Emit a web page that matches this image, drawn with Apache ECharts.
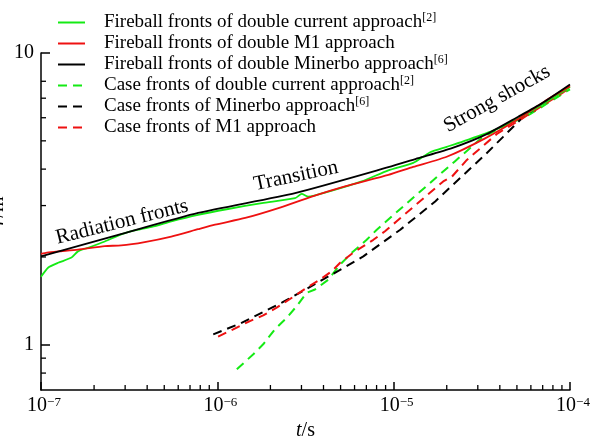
<!DOCTYPE html>
<html>
<head>
<meta charset="utf-8">
<script src="https://cdn.jsdelivr.net/npm/echarts@6/dist/echarts.min.js"></script>
<style>
  html, body { margin: 0; padding: 0; background: #fff; }
  #chart { width: 596px; height: 439px; }
</style>
</head>
<body>
<div id="chart"></div>
<script>
// t in s, r in m
var fireballCurrent = [
  [1e-7, 1.71], [1.10e-7, 1.84], [1.25e-7, 1.91], [1.49e-7, 1.99], [1.62e-7, 2.09],
  [1.85e-7, 2.15], [2.30e-7, 2.26], [2.85e-7, 2.39], [3.55e-7, 2.48], [4.42e-7, 2.55],
  [5.48e-7, 2.65], [7.78e-7, 2.79], [1.15e-6, 2.92], [1.79e-6, 3.06], [2.76e-6, 3.18],
  [3.01e-6, 3.29], [3.28e-6, 3.22], [4.27e-6, 3.35], [6.59e-6, 3.63], [9.33e-6, 3.96],
  [1.29e-5, 4.20], [1.61e-5, 4.57], [2.00e-5, 4.77], [2.48e-5, 4.98], [3.76e-5, 5.45],
  [5.94e-5, 6.28], [9.72e-5, 7.56], [1e-4, 7.65]
];
var fireballM1 = [
  [1e-7, 2.05], [1.08e-7, 2.07], [1.25e-7, 2.09], [1.62e-7, 2.12], [2.30e-7, 2.18],
  [2.85e-7, 2.19], [3.87e-7, 2.25], [5.48e-7, 2.35], [7.78e-7, 2.49], [9.70e-7, 2.58],
  [1.44e-6, 2.72], [2.22e-6, 2.94], [3.43e-6, 3.22], [5.30e-6, 3.49], [9.33e-6, 3.82],
  [1.29e-5, 4.07], [2.00e-5, 4.41], [3.30e-5, 5.10], [5.09e-5, 5.94], [7.23e-5, 6.85],
  [1e-4, 7.7]
];
var fireballMinerbo = [
  [1e-7, 2.01], [2.74e-7, 2.38], [7.78e-7, 2.83], [2.76e-6, 3.31], [9.33e-6, 4.06],
  [1.38e-5, 4.36], [2.14e-5, 4.72], [3.30e-5, 5.24], [5.09e-5, 6.05], [6.92e-5, 6.72],
  [1e-4, 7.8]
];
var caseCurrent = [
  [1.29e-6, 0.825], [1.60e-6, 0.928], [1.82e-6, 1.004], [2.12e-6, 1.13], [2.48e-6, 1.239],
  [2.82e-6, 1.357], [3.21e-6, 1.508], [3.58e-6, 1.547], [4.27e-6, 1.674], [4.97e-6, 1.884],
  [5.78e-6, 2.066], [7.03e-6, 2.29], [8.02e-6, 2.48], [9.93e-6, 2.78], [1.47e-5, 3.42],
  [2.23e-5, 4.26], [3.16e-5, 5.12], [4.02e-5, 5.53], [5.94e-5, 6.17], [9.6e-5, 7.40],
  [1e-4, 7.5]
];
var caseMinerbo = [
  [9.48e-7, 1.086], [1.35e-6, 1.184], [2.32e-6, 1.394], [2.94e-6, 1.508], [5.19e-6, 1.835],
  [6.73e-6, 2.01], [1.09e-5, 2.48], [1.72e-5, 3.10], [2.43e-5, 3.77], [3.30e-5, 4.48],
  [4.19e-5, 5.17], [5.44e-5, 6.05], [9.5e-5, 7.55]
];
var caseM1 = [
  [1.01e-6, 1.067], [1.23e-6, 1.13], [1.53e-6, 1.206], [1.82e-6, 1.261], [2.17e-6, 1.34],
  [2.70e-6, 1.461], [3.21e-6, 1.568], [3.83e-6, 1.674], [4.46e-6, 1.787], [4.97e-6, 1.91],
  [5.90e-6, 2.07], [7.67e-6, 2.29], [8.93e-6, 2.45], [1.04e-5, 2.65], [1.91e-5, 3.63],
  [2.14e-5, 3.77], [2.60e-5, 4.30], [3.85e-5, 5.28], [5.21e-5, 5.90], [8.97e-5, 7.27],
  [1e-4, 7.6]
];

var seriesNames = [
  'Fireball fronts of double current approach[2]',
  'Fireball fronts of double M1 approach',
  'Fireball fronts of double Minerbo approach[6]',
  'Case fronts of double current approach[2]',
  'Case fronts of Minerbo approach[6]',
  'Case fronts of M1 approach'
];

// minor tick values of the log axes
var xMinorTicks = [2e-7, 3e-7, 4e-7, 5e-7, 6e-7, 7e-7, 8e-7, 9e-7,
  2e-6, 3e-6, 4e-6, 5e-6, 6e-6, 7e-6, 8e-6, 9e-6,
  2e-5, 3e-5, 4e-5, 5e-5, 6e-5, 7e-5, 8e-5, 9e-5];
var yMinorTicks = [0.8, 0.9, 2, 3, 4, 5, 6, 7, 8];

var serif = '"Liberation Serif", "DejaVu Serif", serif';
var GREEN = '#14ea14';
var RED = '#ee1111';
var BLACK = '#000000';

function lineSeries(name, data, color, dashed) {
  return {
    name: name,
    type: 'line',
    data: data,
    symbol: 'none',
    symbolSize: 0,
    showSymbol: false,
    smooth: dashed ? false : 0.2,
    itemStyle: { color: color },
    lineStyle: { color: color, width: dashed ? 2 : 1.8, type: dashed ? [9, 6] : 'solid' },
    z: dashed ? 2 : 3
  };
}

function minorTickSeries(data, horizontal) {
  return {
    type: 'custom',
    silent: true,
    clip: false,
    z: 5,
    data: data,
    renderItem: function (params, api) {
      var p = api.coord([api.value(0), api.value(1)]);
      return {
        type: 'line',
        shape: horizontal
          ? { x1: p[0], y1: p[1], x2: p[0] + 5, y2: p[1] }
          : { x1: p[0], y1: p[1], x2: p[0], y2: p[1] - 5 },
        style: { stroke: '#000', lineWidth: 1.3 }
      };
    }
  };
}

function powLabel(value) {
  var e = Math.round(Math.log10(value));
  if (e === 0) return '{b|1}';
  if (e === 1) return '{b|10}';
  return '{b|10}{e|' + (e < 0 ? '\u2212' : '') + Math.abs(e) + '}';
}

var axisRich = {
  b: { fontFamily: serif, fontSize: 20, color: '#000' },
  e: { fontFamily: serif, fontSize: 13, color: '#000', verticalAlign: 'top', lineHeight: 14 }
};

var option = {
  animation: false,
  backgroundColor: '#fff',
  grid: { left: 41, right: 26, top: 53, bottom: 49, containLabel: false, outerBoundsMode: 'none' },
  legend: {
    orient: 'vertical',
    left: 57,
    top: 12,
    padding: 0,
    itemWidth: 27,
    itemHeight: 10,
    itemGap: 0,
    itemStyle: { opacity: 0, borderWidth: 0 },
    data: seriesNames,
    formatter: function (name) {
      var m = name.match(/^(.*?)(\[\d\])?$/);
      return '{n|' + m[1] + '}' + (m[2] ? '{s|' + m[2] + '}' : '');
    },
    textStyle: {
      color: '#000',
      fontFamily: serif,
      fontSize: 19,
      lineHeight: 21,
      padding: [0, 0, 0, 14],
      rich: {
        n: { fontFamily: serif, fontSize: 19, color: '#000', lineHeight: 21 },
        s: { fontFamily: serif, fontSize: 12, color: '#000', verticalAlign: 'top', lineHeight: 14 }
      }
    }
  },
  xAxis: {
    type: 'log',
    logBase: 10,
    min: 1e-7,
    max: 1e-4,
    name: '{i|t}/s',
    nameLocation: 'middle',
    nameGap: 20,
    nameTextStyle: {
      fontFamily: serif, fontSize: 20, color: '#000',
      rich: { i: { fontFamily: serif, fontSize: 20, fontStyle: 'italic', color: '#000' } }
    },
    axisLine: { lineStyle: { color: '#000', width: 1.5 } },
    axisTick: { inside: true, length: 8, lineStyle: { color: '#000', width: 1.5 } },
    splitLine: { show: false },
    axisLabel: { margin: 6, padding: [0, 0, 0, 6], formatter: powLabel, rich: axisRich }
  },
  yAxis: {
    type: 'log',
    logBase: 10,
    min: 0.7,
    max: 10,
    axisLine: { show: true, lineStyle: { color: '#000', width: 1.5 } },
    axisTick: { inside: true, length: 9, lineStyle: { color: '#000', width: 1.5 } },
    splitLine: { show: false },
    axisLabel: { margin: 7, showMinLabel: false, formatter: powLabel, rich: axisRich }
  },
  graphic: [
    {
      // y axis title, clipped by the left edge as in the original figure
      type: 'text', x: -2, y: 211, rotation: Math.PI / 2,
      style: {
        text: '{i|r}/m', font: '20px ' + serif, fill: '#000', align: 'center', verticalAlign: 'middle',
        rich: { i: { fontStyle: 'italic', fontSize: 20, fontFamily: serif, fill: '#000' } }
      }
    },
    {
      type: 'text', x: 122, y: 222, rotation: 14 * Math.PI / 180,
      style: { text: 'Radiation fronts', font: '21px ' + serif, fill: '#000', align: 'center', verticalAlign: 'middle' }
    },
    {
      type: 'text', x: 296, y: 176, rotation: 12 * Math.PI / 180,
      style: { text: 'Transition', font: '21px ' + serif, fill: '#000', align: 'center', verticalAlign: 'middle' }
    },
    {
      type: 'text', x: 497, y: 99, rotation: 29 * Math.PI / 180,
      style: { text: 'Strong shocks', font: '21px ' + serif, fill: '#000', align: 'center', verticalAlign: 'middle' }
    }
  ],
  series: [
    lineSeries(seriesNames[0], fireballCurrent, GREEN, false),
    lineSeries(seriesNames[1], fireballM1, RED, false),
    lineSeries(seriesNames[2], fireballMinerbo, BLACK, false),
    lineSeries(seriesNames[3], caseCurrent, GREEN, true),
    lineSeries(seriesNames[4], caseMinerbo, BLACK, true),
    lineSeries(seriesNames[5], caseM1, RED, true),
    minorTickSeries(xMinorTicks.map(function (t) { return [t, 0.7]; }), false),
    minorTickSeries(yMinorTicks.map(function (r) { return [1e-7, r]; }), true)
  ]
};

var chart = echarts.init(document.getElementById('chart'));
chart.setOption(option);
</script>
</body>
</html>
